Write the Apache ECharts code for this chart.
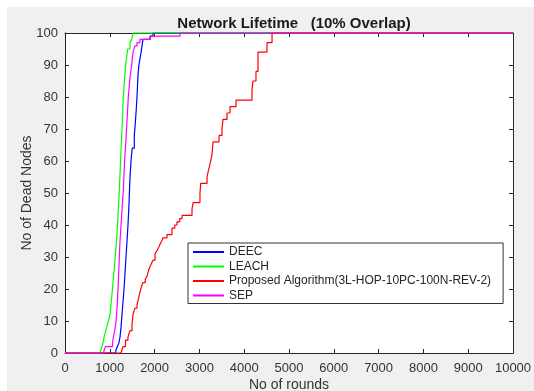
<!DOCTYPE html>
<html>
<head>
<meta charset="utf-8">
<script src="https://cdn.jsdelivr.net/npm/echarts@6/dist/echarts.min.js"></script>
<style>
  html, body { margin: 0; padding: 0; background: #ffffff; }
  #frame { position: absolute; left: 7px; top: 7px; right: 0; bottom: 0; background: #f0f0f0; }
  #chart { position: absolute; left: 0; top: 0; width: 534px; height: 391px; }
</style>
</head>
<body>
<div id="frame"></div>
<div id="chart"></div>
<script>
// Dead nodes per round for each protocol (value holds from the given round onward)
const deecRounds = [0, 1130, 1140, 1170, 1200, 1228, 1250, 1272, 1295, 1317, 1340, 1362, 1384, 1406, 1430, 1451, 1473, 1500, 1547, 1570, 1590, 1607, 1630, 1650, 1674, 1700, 1719, 1741, 1900, 1964, 10000];
const deecDead   = [0, 0, 1, 2, 3, 5, 8, 12, 16, 20, 25, 30, 35, 40, 47, 55, 60, 64, 68, 72, 76, 80, 87, 90, 92, 94, 96, 98, 99, 100, 100];

const leachRounds = [0, 781, 800, 830, 860, 890, 930, 970, 1004, 1040, 1071, 1110, 1150, 1180, 1213, 1240, 1265, 1285, 1302, 1330, 1362, 1400, 1451, 1490, 1518, 10000];
const leachDead   = [0, 0, 1, 2, 4, 6, 8, 10, 12, 17, 22, 28, 35, 42, 51, 60, 68, 74, 80, 86, 91, 95, 97, 98, 100, 100];

const proposedRounds = [0, 1250, 1272, 1295, 1350, 1406, 1450, 1496, 1518, 1560, 1607, 1640, 1674, 1710, 1741, 1790, 1830, 1870, 1897, 1930, 1964, 2010, 2054, 2090, 2121, 2160, 2188, 2277, 2388, 2450, 2500, 2560, 2612, 2835, 2860, 3013, 3030, 3170, 3200, 3237, 3281, 3304, 3438, 3504, 3527, 3616, 3683, 3817, 4174, 4196, 4263, 4308, 4509, 4621, 10000];
const proposedDead   = [0, 0, 1, 2, 4, 5, 7, 9, 12, 14, 15, 17, 19, 21, 22, 23, 24, 26, 27, 28, 29, 31, 32, 33, 34, 35, 36, 37, 39, 40, 41, 42, 43, 45, 47, 50, 53, 55, 57, 59, 62, 66, 68, 70, 73, 75, 77, 79, 82, 85, 88, 94, 97, 100, 100];

const sepRounds = [0, 860, 875, 900, 1060, 1080, 1110, 1140, 1165, 1190, 1213, 1228, 1260, 1302, 1330, 1362, 1390, 1413, 1450, 1488, 1518, 1560, 1607, 1674, 1897, 2567, 10000];
const sepDead   = [0, 0, 1, 2, 3, 5, 7, 10, 15, 22, 30, 35, 42, 51, 60, 67, 74, 80, 86, 90, 94, 96, 97, 98, 99, 100, 100];

const seriesNames = ['DEEC', 'LEACH', 'Proposed Algorithm(3L-HOP-10PC-100N-REV-2)', 'SEP'];
const seriesColors = ['#0000ff', '#00ff00', '#ff0000', '#ff00ff'];

const xTicks = { min: 0, max: 10000, interval: 1000 };
const yTicks = { min: 0, max: 100, interval: 10 };

function pairs(xs, ys) { return xs.map((x, i) => [x, ys[i]]); }

const seriesData = [
  pairs(deecRounds, deecDead),
  pairs(leachRounds, leachDead),
  pairs(proposedRounds, proposedDead),
  pairs(sepRounds, sepDead)
];

const chart = echarts.init(document.getElementById('chart'), null, { renderer: 'canvas' });

const fontFam = '"Liberation Sans", Arial, Helvetica, sans-serif';
const axisColor = '#262626';
const plainNumber = v => String(v);

function frameAxis(extra) {
  return Object.assign({
    type: 'value',
    axisLine: { show: true, onZero: false, lineStyle: { color: axisColor, width: 1 } },
    axisTick: { show: true, inside: true, length: 4, lineStyle: { color: axisColor } },
    splitLine: { show: false }
  }, extra);
}

chart.setOption({
  backgroundColor: 'transparent',
  animation: false,
  textStyle: { fontFamily: fontFam },
  title: {
    text: 'Network Lifetime   (10% Overlap)',
    left: 289,
    top: 11,
    textAlign: 'center',
    textStyle: { fontSize: 15, fontWeight: 'bold', color: '#1a1a1a', fontFamily: fontFam }
  },
  grid: {
    left: 65, top: 33, right: 21, bottom: 38,
    outerBoundsMode: 'none',
    containLabel: false,
    show: true, backgroundColor: '#ffffff', borderWidth: 0
  },
  legend: {
    orient: 'vertical',
    left: 188,
    top: 243,
    itemWidth: 31,
    itemHeight: 12,
    itemGap: 2.5,
    padding: [3, 12, 2, 4],
    backgroundColor: '#ffffff',
    borderColor: '#333333',
    borderWidth: 1,
    borderRadius: 0,
    itemStyle: { opacity: 0 },
    textStyle: { fontSize: 12, color: '#262626', fontFamily: fontFam },
    data: seriesNames
  },
  xAxis: [
    frameAxis(Object.assign({
      position: 'bottom',
      name: 'No of rounds',
      nameLocation: 'middle',
      nameGap: 25,
      nameMoveOverlap: false,
      nameTextStyle: { fontSize: 14, color: '#333333', fontFamily: fontFam },
      axisLabel: { fontSize: 13, color: '#333333', margin: 9, fontFamily: fontFam, formatter: plainNumber }
    }, xTicks)),
    frameAxis(Object.assign({
      position: 'top',
      axisLabel: { show: false }
    }, xTicks))
  ],
  yAxis: [
    frameAxis(Object.assign({
      position: 'left',
      name: 'No of Dead Nodes',
      nameLocation: 'middle',
      nameGap: 31,
      nameMoveOverlap: false,
      nameTextStyle: { fontSize: 14, color: '#333333', fontFamily: fontFam },
      axisLabel: { fontSize: 13, color: '#333333', margin: 7, fontFamily: fontFam, formatter: plainNumber }
    }, yTicks)),
    frameAxis(Object.assign({
      position: 'right',
      axisLabel: { show: false }
    }, yTicks))
  ],
  series: seriesNames.map((name, i) => ({
    name: name,
    type: 'line',
    step: 'end',
    xAxisIndex: 0,
    yAxisIndex: 0,
    data: seriesData[i],
    symbol: 'none',
    clip: false,
    color: seriesColors[i],
    lineStyle: { color: seriesColors[i], width: 1.2 }
  }))
});
</script>
</body>
</html>
